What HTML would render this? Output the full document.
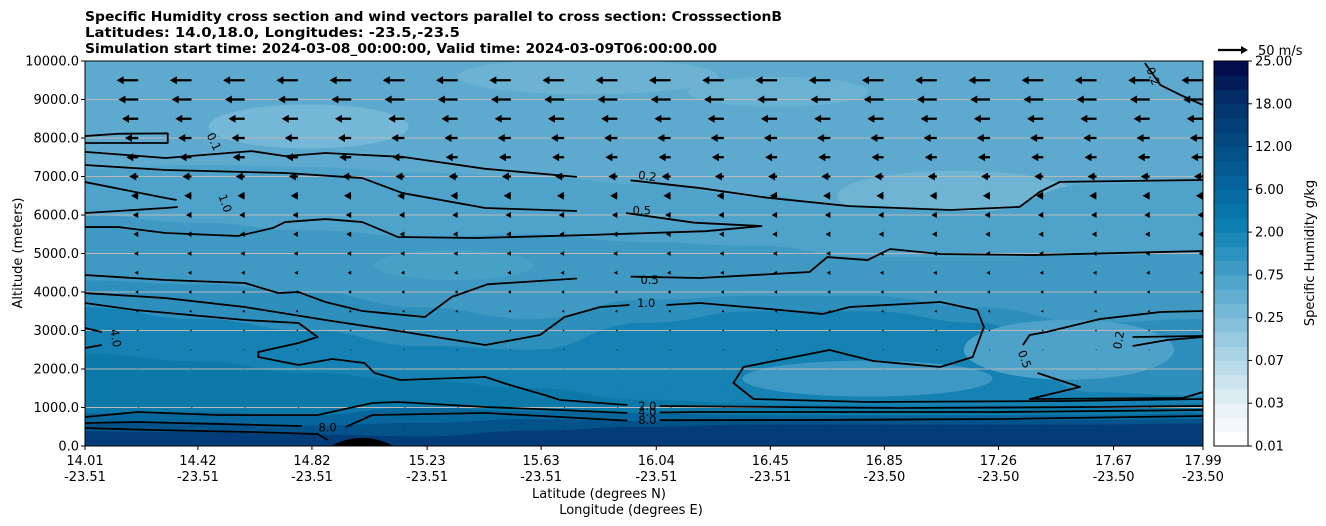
<!DOCTYPE html>
<html><head><meta charset="utf-8"><style>
body{margin:0;background:#fff;}
svg{display:block;font-family:"DejaVu Sans","Liberation Sans",sans-serif;}
</style></head><body>
<svg id="chart" width="1326" height="526" xmlns="http://www.w3.org/2000/svg">
<g font-weight="bold" font-size="13">
<text x="85" y="21" textLength="697" lengthAdjust="spacingAndGlyphs">Specific Humidity cross section and wind vectors parallel to cross section: CrosssectionB</text>
<text x="85" y="37" textLength="375" lengthAdjust="spacingAndGlyphs">Latitudes: 14.0,18.0, Longitudes: -23.5,-23.5</text>
<text x="85" y="53" textLength="632" lengthAdjust="spacingAndGlyphs">Simulation start time: 2024-03-08_00:00:00, Valid time: 2024-03-09T06:00:00.00</text>
</g>
<defs><clipPath id="pc"><rect x="85" y="61" width="1118" height="385"/></clipPath></defs>
<g id="plot" clip-path="url(#pc)"></g>
<g id="over"></g>
</svg>
<script>
// ---- data ----
const xTickLats=["14.01","14.42","14.82","15.23","15.63","16.04","16.45","16.85","17.26","17.67","17.99"];
const xTickLons=["-23.51","-23.51","-23.51","-23.51","-23.51","-23.51","-23.51","-23.50","-23.50","-23.50","-23.50"];
const xTickFrac=[0,10.1,20.3,30.6,40.8,51.1,61.3,71.5,81.7,92,100];
const yTicks=[0,1000,2000,3000,4000,5000,6000,7000,8000,9000,10000];
const cbarLabels=["0.01","0.03","0.07","0.25","0.75","2.00","6.00","12.00","18.00","25.00"];
// filled layer boundaries (altitude m at frac 0,10,...,100)
const layerFrac=[0,10,20,30,40,50,60,70,80,90,100];
const layer1=[7200,7300,7250,7100,7000,6800,6500,6200,6100,6800,6900];
const layer2=[6000,5800,5600,5450,5500,5300,5200,4900,4900,4950,5000];
const layer3=[4300,4200,4000,3600,3300,3800,3900,3900,3600,3200,3300];
const layer4=[3600,3300,3000,2600,2500,3200,3500,3500,3200,1400,1300];
const layer5=[2400,2200,1900,1700,1500,1200,1100,1050,1050,1050,1100];
const layer6=[850,880,800,1000,900,850,800,800,800,800,850];
const layer7=[620,620,530,600,700,650,680,680,680,680,700];
const layer8=[380,360,300,250,400,500,560,560,560,560,580];
// contour lines [frac%, altitude]
const c01=[[0,8050],[3,8110],[7.4,8120],[7.4,7870],[0,7870]];
const c02=[[0,7640],[7.2,7480],[14.9,7660],[17.9,7530],[21.5,7610],[28.4,7510],[35.8,7200],[44,6990]];
const c02b=[[48.8,6900],[55,6700],[61,6450],[68.4,6230],[77.4,6130],[83.6,6210],[85.4,6600],[87.2,6860],[100,6910]];
const c05u=[[0,7298],[7.2,7168],[17.9,7090],[24.8,6960],[28.4,6570],[35.8,6181],[44,6103]];
const c05ub=[[48.4,6050],[54.5,5800],[60.5,5713],[55.5,5580],[45,5480],[35,5402],[28,5428],[24.8,5817],[21.5,5895],[17.9,5817],[16.8,5662],[13.7,5454],[7.2,5532],[3,5687],[0,5687]];
const c10a=[[0,6856],[7.2,6441],[8.2,6389]];
const c10b=[[8.3,6207],[7.2,6181],[0,6051]];
const c05l=[[0,4441],[7.2,4311],[14.3,4233],[17.3,3973],[19.1,3999],[21.5,3740],[24.8,3506],[30.4,3350],[32.8,3870],[36,4200],[44,4350]];
const c05lb=[[48.8,4400],[55,4363],[64.8,4519],[66.4,4908],[70,4830],[72,5116],[76.5,4986],[84.8,4960],[100,5064]];
const c10=[[0,3973],[7.2,3843],[14.3,3610],[21.5,3272],[28.6,2960],[35.8,2623],[40.7,2883],[42.9,3350],[46.1,3610],[48.7,3662]];
const c10r=[[52,3662],[55,3714],[62.2,3532],[66,3428],[68.4,3610],[76.5,3740],[79.8,3532],[80.4,3090],[79.4,2311],[76.5,2052],[70.5,2207],[66.6,2493],[58.9,2052],[58,1636],[59.8,1221],[70,1143],[87.8,1169],[100,1221]];
const c20=[[0,3714],[4.5,3532],[14.3,3272],[19.1,3194],[20.8,2831],[19.1,2675],[15.5,2441],[15.5,2311],[19.1,2104],[22.1,2259],[25,2156],[25.9,1896],[28.2,1714],[35.8,1792],[38,1584],[41.1,1324],[42.5,1195],[48.5,1065]];
const c20r=[[51.4,1039],[72.9,987],[90.8,1013],[100,1039]];
const c40=[[0,753],[4.7,883],[11.9,805],[20.8,805],[25.7,1117],[28,1143],[35.8,1013],[42.5,935],[48.5,857]];
const c40r=[[51.4,870],[55,883],[81.8,883],[100,935]];
const c80=[[0,597],[4.7,623],[11.9,571],[19.4,519]];
const c80b=[[23.3,493],[25.7,805],[35.8,857],[42.5,753],[48.5,660]];
const c80r=[[51.4,670],[64,675],[81.8,701],[100,779]];
const c80c=[[0,467],[6,415],[14.8,364],[20.8,312],[21.7,156]];
const c05r=[[83.9,2623],[84.5,2883],[86,2960],[90.8,3298],[96.2,3480],[100,3506]];
const c05r2=[[85.2,1896],[89,1532],[84.5,1221],[98.2,1247],[100,1402]];
const c02r=[[93.7,2831],[100,2857]];
const c02r2=[[93.7,2597],[96.8,2753],[100,2831]];
const c02t=[[94.8,9947],[96.2,9375],[98,9116],[100,8856]];
const c40l=[[0,3064],[1.5,2960]];
const c40l2=[[0,2545],[1.5,2623]];
// wind rows
const windAlts=[500,1000,1500,2000,2500,3000,3500,4000,4500,5000,5500,6000,6500,7000,7500,8000,8500,9000,9500];
const windU=[1.5,2,0.8,-1,-2,-3,-4,-5,-6,-7,-8,-9,-12,-15,-20,-22,-27,-33,-36];
const windCols=22;

// ---- axes ----
const X0=85,X1=1203,Y0=446,Y1=61;
const sx=f=>X0+f/100*(X1-X0);
const sy=a=>Y0-a/10000*(Y0-Y1);
const NS="http://www.w3.org/2000/svg";
const plot=document.getElementById('plot'),over=document.getElementById('over');
function mk(tag,attrs,parent){const e=document.createElementNS(NS,tag);for(const k in attrs)e.setAttribute(k,attrs[k]);parent.appendChild(e);return e;}

let bg=mk('rect',{x:X0,y:Y1,width:X1-X0,height:Y0-Y1,fill:'#5eaace'},plot);


const patches=[[20,8300,100,22,'#74b7d6'],[45,9600,130,18,'#6cb3d3'],[78,6500,120,25,'#6fb4d3'],[62,9200,90,15,'#69b2d2']];
patches.forEach(p=>{const e=mk('ellipse',{cx:sx(p[0]),cy:sy(p[1]),rx:p[2],ry:p[3],fill:p[4]},plot);

});
function smoothPath(pts){let d=`M${pts[0][0]},${pts[0][1]}`;for(let i=1;i<pts.length;i++){const p0=pts[i-1],p1=pts[i];const mx=(p0[0]+p1[0])/2;d+=` C${mx},${p0[1]} ${mx},${p1[1]} ${p1[0]},${p1[1]}`;}return d;}
const layers=[[layer1,'#4fa3ca'],[layer2,'#3f99c3'],[layer3,'#2e8fbd'],[layer4,'#1682b3'],[layer5,'#0c79a9'],[layer6,'#07679c'],[layer7,'#04528a'],[layer8,'#023d7a']];
layers.forEach((L,i)=>{const pts=layerFrac.map((f,j)=>[sx(f),sy(L[0][j])]);
let d=smoothPath(pts)+` L${X1},${Y0} L${X0},${Y0} Z`;
const e=mk('path',{d:d,fill:L[1]},plot);


if(i===3){
// lighter pockets under the 1.0 loop and on the right
const pp=[[70,1750,125,18,'#3d98c3'],[88,2500,105,30,'#4ea2c9'],[33,4700,80,15,'#48a0c7']];
pp.forEach(p=>{const q=mk('ellipse',{cx:sx(p[0]),cy:sy(p[1]),rx:p[2],ry:p[3],fill:p[4]},plot);

});
}});
const t=mk('path',{d:`M${sx(22)},${Y0} Q${sx(24.8)},${sy(420)} ${sx(27.6)},${Y0} Z`,fill:'#000'},plot);


yTicks.forEach(a=>{const g=mk('line',{x1:X0,x2:X1,y1:sy(a),y2:sy(a),stroke:'#b9b9b9','stroke-width':1},plot);

});
const lines=[c01,c02,c02b,c05u,c05ub,c10a,c10b,c05l,c05lb,c10,c10r,c20,c20r,c40,c40r,c80,c80b,c80r,c80c,c05r,c05r2,c02r,c02r2,c02t,c40l,c40l2];
lines.forEach(L=>{const d='M'+L.map(p=>sx(p[0])+','+sy(p[1])).join(' L');
const e=mk('path',{d:d,fill:'none',stroke:'#000','stroke-width':1.8,'stroke-linejoin':'round'},plot);

});
const clabels=[["0.1",11.5,7900,65],["1.0",12.5,6300,70],["0.2",50.3,7000,8],["0.5",49.8,6100,0],["0.5",50.5,4300,0],["1.0",50.2,3700,0],["2.0",50.3,1030,0],["4.0",50.3,870,0],["8.0",50.3,660,0],["8.0",21.7,470,0],["4.0",2.7,2800,80],["0.5",84,2250,70],["0.2",92.5,2750,-80],["0.2",95.5,9600,70]];
clabels.forEach(c=>{const e=mk('text',{x:sx(c[1]),y:sy(c[2]),'font-size':11.5,'text-anchor':'middle','dominant-baseline':'middle',transform:`rotate(${c[3]} ${sx(c[1])} ${sy(c[2])})`},plot);e.textContent=c[0];

});
function arrow(x,y,u,parent){const L=Math.abs(u)*0.6;const dir=u<0?-1:1;const hl=7,hw=4,sw=1.1;
let pts;if(L<=hl){const s=L/hl;pts=[[0,-hw*s],[L,0],[0,hw*s]];}
else pts=[[0,-sw],[L-hl,-sw],[L-hl,-hw],[L,0],[L-hl,hw],[L-hl,sw],[0,sw]];
return mk('polygon',{points:pts.map(p=>(x+dir*p[0])+','+(y+p[1])).join(' '),fill:'#000'},parent);}
for(let r=0;r<windAlts.length;r++)for(let c=0;c<windCols;c++){
const e=arrow(sx(c*100/(windCols-1)),sy(windAlts[r]),windU[r],plot);

}
const fr=mk('rect',{x:X0,y:Y1,width:X1-X0,height:Y0-Y1,fill:'none',stroke:'#000','stroke-width':1},over);


yTicks.forEach(a=>{const y=sy(a);const tk=mk('line',{x1:X0-4,x2:X0,y1:y,y2:y,stroke:'#000'},over);


const tx=mk('text',{x:X0-6,y:y+4.5,'font-size':13,'text-anchor':'end'},over);tx.textContent=a.toFixed(1);

});
xTickFrac.forEach((f,i)=>{const x=sx(f);const tk=mk('line',{x1:x,x2:x,y1:Y0,y2:Y0+4,stroke:'#000'},over);


const t1=mk('text',{x:x,y:465,'font-size':13,'text-anchor':'middle'},over);t1.textContent=xTickLats[i];


const t2=mk('text',{x:x,y:481,'font-size':13,'text-anchor':'middle'},over);t2.textContent=xTickLons[i];

});
const xl=mk('text',{x:599,y:498,'font-size':13,'text-anchor':'middle'},over);xl.textContent='Latitude (degrees N)';


const xl2=mk('text',{x:631,y:514,'font-size':13,'text-anchor':'middle'},over);xl2.textContent='Longitude (degrees E)';


const yl=mk('text',{x:22,y:253,'font-size':13,'text-anchor':'middle',transform:'rotate(-90 22 253)'},over);yl.textContent='Altitude (meters)';


const qk=arrow(1218,50,50,over);


const qt=mk('text',{x:1258,y:55,'font-size':13},over);qt.textContent='50 m/s';


const anchors=[[0,[255,255,255]],[3,[220,236,243]],[6,[169,211,228]],[9,[116,183,214]],[12,[63,155,198]],[15,[10,127,176]],[18,[5,98,154]],[21,[3,72,127]],[24,[3,44,102]],[26,[2,13,78]]];
const CB0=1214,CB1=1248,nb=27,bh=(Y0-Y1)/nb;
for(let i=0;i<nb;i++){let a=anchors[0],b=anchors[anchors.length-1];for(let k=0;k<anchors.length-1;k++)if(i>=anchors[k][0]&&i<=anchors[k+1][0]){a=anchors[k];b=anchors[k+1];break;}
const tt=(i-a[0])/((b[0]-a[0])||1);const col=a[1].map((v,j)=>Math.round(v+(b[1][j]-v)*tt));
const e=mk('rect',{x:CB0,y:Y0-(i+1)*bh,width:CB1-CB0,height:bh+0.5,fill:`rgb(${col})`},over);

}
const cbf=mk('rect',{x:CB0,y:Y1,width:CB1-CB0,height:Y0-Y1,fill:'none',stroke:'#000'},over);


cbarLabels.forEach((l,i)=>{const y=Y0-i*(Y0-Y1)/(cbarLabels.length-1);
const tk=mk('line',{x1:CB1,x2:CB1+4,y1:y,y2:y,stroke:'#000'},over);


const tx=mk('text',{x:CB1+7,y:y+4.5,'font-size':13},over);tx.textContent=l;

});
const cl=mk('text',{x:1314,y:253,'font-size':13,'text-anchor':'middle',transform:'rotate(-90 1314 253)'},over);cl.textContent='Specific Humidity g/kg';


</script>
</body></html>
